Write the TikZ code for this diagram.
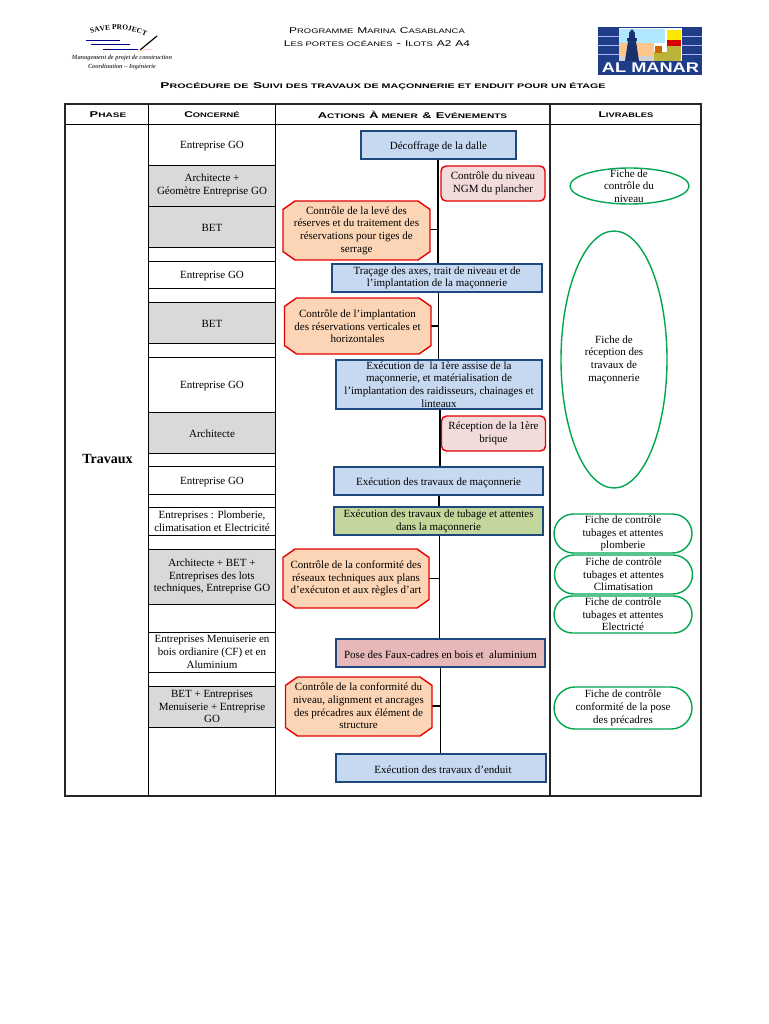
\documentclass[tikz,border=0pt]{standalone}
\usepackage{fontspec}
\usetikzlibrary{shapes.misc,shapes.geometric,decorations.text}
\setmainfont{Liberation Serif}
\newfontfamily\cgfont[FakeStretch=1.42]{Liberation Sans}
\newfontfamily\cgtitle[FakeStretch=1.62]{Liberation Sans}
\newfontfamily\cgacts[FakeStretch=1.53]{Liberation Sans}
\newfontfamily\almfont[FakeStretch=1.3]{Liberation Sans}
\newcommand{\CG}[2]{{\fontsize{8.4}{10}\selectfont #1}{\fontsize{6.6}{10}\selectfont #2}}
\newcommand{\octagon}[5]{%
 \draw[octo] (#1+#5,#3) -- (#2-#5,#3) -- (#2,#3+#5*0.7) -- (#2,#4-#5*0.7) -- (#2-#5,#4) -- (#1+#5,#4) -- (#1,#4-#5*0.7) -- (#1,#3+#5*0.7) -- cycle;}
\definecolor{boxblue}{HTML}{C6D9F1}
\definecolor{boxedge}{HTML}{1F497D}
\definecolor{ctrlpink}{HTML}{F2DCDB}
\definecolor{ctrlorange}{HTML}{FBD5B5}
\definecolor{tubgreen}{HTML}{C3D69B}
\definecolor{posered}{HTML}{E6B9B8}
\definecolor{cellgray}{HTML}{D9D9D9}
\definecolor{delivgreen}{HTML}{00A650}
\definecolor{almblue}{HTML}{1F3C88}
\tikzset{
 x=1pt,y=-1pt,
 txt/.style={font=\fontsize{11}{12.7}\selectfont,align=center,text=black,inner sep=0pt,
   execute at begin node={\rule{0pt}{10.5pt}}},
 actionbox/.style={txt,draw=boxedge,line width=1.3pt,fill=boxblue,minimum width=#1,minimum height=28pt},
 ctrlbox/.style={txt,draw=red!90!black,line width=1.4pt,fill=ctrlpink,rounded corners=5pt,minimum width=104pt,minimum height=35pt},
 octo/.style={draw=red!90!black,line width=1.4pt,fill=ctrlorange},
 flow/.style={draw=black,line width=1.4pt},
 branch/.style={draw=black,line width=1pt},
 cellrule/.style={draw=black,line width=0.9pt},
 delivoval/.style={txt,draw=delivgreen,line width=1.4pt,fill=white,ellipse,inner sep=0pt},
 delivpill/.style={txt,draw=delivgreen,line width=1.4pt,fill=white,rounded rectangle,minimum width=138pt,minimum height=#1},
 head/.style={inner sep=0pt,text=black,font=\cgfont},
}
\begin{document}
\begin{tikzpicture}
\useasboundingbox (0,0) rectangle (768,1024);
\fill[white] (0,0) rectangle (768,1024);

% ---- header text
\node[head] (h1) at (377,31) {\CG{P}{ROGRAMME} \CG{M}{ARINA} \CG{C}{ASABLANCA}};
\node[head] (h2) at (377,44) {\CG{L}{ES PORTES OCÉANES} - \CG{I}{LOTS} \CG{A}{}\CG{2}{} \CG{A}{}\CG{4}{}};
\node[head,font=\cgtitle] (title) at (383,86) {\bfseries\CG{P}{ROCÉDURE DE} \CG{S}{UIVI DES TRAVAUX DE MAÇONNERIE ET ENDUIT POUR UN ÉTAGE}};

% ---- left logo
\path[decorate,decoration={text along path,text align=center,
  text={|\fontsize{7.4}{8}\selectfont\bfseries|SAVE PROJECT}}]
  (85,37) .. controls (102,27) and (130,27) .. (152,39);
\draw[blue!55!black,line width=1pt] (86,41) -- (120,41);
\draw[blue!55!black,line width=1pt] (91,45) -- (130,45);
\draw[blue!55!black,line width=1pt] (103,50) -- (138,50);
\draw[black,line width=1.2pt] (140,50) -- (157,36);
\draw[red!40,line width=0.4pt] (140,50) -- (153,49);
\node[inner sep=0pt,font=\fontsize{6.3}{8.8}\selectfont\itshape\bfseries,text=black!75,align=center] (sub) at (122,62.5)
 {Management de projet de construction\\Coordination -- Ingénierie};

% ---- right logo
\fill[white] (598,27) rectangle (702,75);
\fill[blue!30!cyan!30] (619,29) rectangle (665,43);
\fill[orange!45] (619,43) rectangle (654,56);
\fill[black!18] (619,56) rectangle (654,61);
\fill[yellow!90!orange] (667,30) rectangle (681,40);
\fill[red!85!black] (667,40) rectangle (681,46);
\fill[yellow!70!black] (667,46) rectangle (681,61);
\fill[yellow!70!black] (654,52) rectangle (667,61);
\fill[orange!80!black] (655,46) rectangle (662,53);
\fill[almblue] (598,27) rectangle (619,61);
\fill[almblue] (682,27) rectangle (702,61);
\fill[almblue] (598,61) rectangle (702,75);
\fill[almblue] (598,27) rectangle (702,28.5);
\foreach \yy in {36,45,54}{\draw[white!70!blue,line width=0.4pt] (598,\yy) -- (619,\yy) (682,\yy) -- (702,\yy);}
\fill[almblue!80!black] (625,61) -- (628,41) -- (636,41) -- (639,61) -- cycle;
\fill[almblue!80!black] (627,41) rectangle (637,38);
\fill[almblue!80!black] (629,38) rectangle (635,33);
\fill[almblue!80!black] (632,29) -- (629,33) -- (635,33) -- cycle;
\node[inner sep=0pt,text=white,font=\almfont\bfseries\fontsize{14}{14}\selectfont] (alm) at (650.5,68) {AL MANAR};

% ---- grey cells
\foreach \ya/\yb in {166/206,207/247,303/343,413/453,549/604,686/727}
  {\fill[cellgray] (148,\ya) rectangle (275,\yb);}
% ---- cell rules
\foreach \yy in {165.5,206.5,247,261,288,302,343,357,412,453,466,494,507,535,549,604,632,672,686,727}
  {\draw[cellrule] (148,\yy) -- (275,\yy);}
% ---- table frame
\draw[black!85,line width=1.1pt] (65,104) rectangle (701,796);
\draw[black,line width=0.9pt] (65,124) -- (701,124);
\draw[black,line width=0.9pt] (148,104) -- (148,796);
\draw[black,line width=0.9pt] (275,104) -- (275,796);
\draw[black!85,line width=1.1pt] (550,104) -- (550,796);
% ---- table heads
\node[head,font=\cgacts] (p) at (108,114.5) {\bfseries\CG{P}{HASE}};
\node[head] (c) at (212,114.5) {\bfseries\CG{C}{ONCERNÉ}};
\node[head,font=\cgacts] (a) at (412.5,114.5) {\bfseries\CG{A}{CTIONS} \CG{À}{ MENER} \CG{\&}{} \CG{E}{VÉNEMENTS}};
\node[head] (l) at (626,114.5) {\bfseries\CG{L}{IVRABLES}};
% ---- phase
\node[inner sep=0pt,font=\fontsize{14}{16}\selectfont\bfseries] (phase) at (107.5,459) {Travaux};
% ---- concerned
\node[txt] (c1) at (212,144.5) {Entreprise GO};
\node[txt] (c2) at (212,185.5) {Architecte +\\Géomètre Entreprise GO};
\node[txt] (c3) at (212,226) {BET};
\node[txt] (c4) at (212,274.5) {Entreprise GO};
\node[txt] (c5) at (212,322.5) {BET};
\node[txt] (c6) at (212,384.5) {Entreprise GO};
\node[txt] (c7) at (212,432) {Architecte};
\node[txt] (c8) at (212,480) {Entreprise GO};
\node[txt] (c9) at (212,521) {Entreprises : Plomberie,\\climatisation et Electricité};
\node[txt] (c10) at (212,576.5) {Architecte + BET +\\Entreprises des lots\\techniques, Entreprise GO};
\node[txt] (c11) at (212,652) {Entreprises Menuiserie en\\bois ordianire (CF) et en\\Aluminium};
\node[txt] (c12) at (212,706.5) {BET + Entreprises\\Menuiserie + Entreprise\\GO};

% ---- actions
\node[actionbox=155pt] (a1) at (438.5,145) {Décoffrage de la dalle};
\node[actionbox=210pt] (a2) at (437,278) {Traçage des axes, trait de niveau et de\\l'implantation de la maçonnerie};
\node[actionbox=206pt,minimum height=49pt] (a3) at (439,384.5) {Exécution de\ \ la 1ère assise de la\\maçonnerie, et matérialisation de\\l'implantation des raidisseurs, chainages et\\linteaux};
\node[actionbox=209pt] (a4) at (438.5,481) {Exécution des travaux de maçonnerie};
\node[actionbox=209pt,fill=tubgreen] (a5) at (438.5,521) {Exécution des travaux de tubage et attentes\\dans la maçonnerie};
\node[actionbox=209pt,fill=posered] (a6) at (440.5,653) {Pose des Faux-cadres en bois et\ \ aluminium};
\node[actionbox=210pt] (a7) at (441,768) {\hspace*{4pt}Exécution des travaux d'enduit};

\node[ctrlbox] (k1) at (493,183.5) {Contrôle du niveau\\NGM du plancher};
\node[ctrlbox] (k2) at (493.5,433.5) {Réception de la 1ère\\brique};

% ---- flow connectors
\coordinate (j1) at (438,230);
\coordinate (j2) at (438.5,326);
\coordinate (j3) at (439.5,578);
\coordinate (j4) at (440.5,706);
\draw[flow] (a1.south -| j1) -- (a2.north -| j1);
\draw[flow] (a2.south -| j2) -- (a3.north -| j2);
\draw[flow] (a3.south -| 440,0) -- (a4.north -| 440,0);
\draw[flow] (a4.south -| 439,0) -- (a5.north -| 439,0);
\draw[flow] (a5.south -| j3) -- (a6.north -| j3);
\draw[flow] (a6.south -| j4) -- (a7.north -| j4);

% ---- octagons
\draw[branch] (430,230) -- (j1);
\draw[branch,line width=1.4pt] (431,326) -- (j2);
\draw[branch] (429,578) -- (j3);
\draw[branch,line width=1.4pt] (432,706) -- (j4);
\octagon{283}{430}{201}{260}{12}
\octagon{284.5}{431}{298}{354}{12}
\octagon{283}{429}{549}{608}{12}
\octagon{285.5}{432}{677}{736}{12}
\node[txt] (o1) at (356.5,230.5) {Contrôle de la levé des\\réserves et du traitement des\\réservations pour tiges de\\serrage};
\node[txt] (o2) at (357.5,326.5) {Contrôle de l'implantation\\des réservations verticales et\\horizontales};
\node[txt] (o3) at (356,578.5) {Contrôle de la conformité des\\réseaux techniques aux plans\\d'exécuton et aux règles d'art};
\node[txt] (o4) at (358.5,706) {Contrôle de la conformité du\\niveau, alignment et ancrages\\des précadres aux élément de\\structure};

% ---- deliverables
\node[delivoval,minimum width=119pt,minimum height=36pt] (d1) at (629.5,186) {};
\node[txt] (d1t) at (629,186) {Fiche de\\contrôle du\\niveau};
\node[delivoval,minimum width=106pt,minimum height=257pt] (d2) at (614,359.5) {};
\node[txt] (d2t) at (614,359.5) {Fiche de\\réception des\\travaux de\\maçonnerie};
\node[delivpill=39pt] (d3) at (623,533.5) {Fiche de contrôle\\tubages et attentes\\plomberie};
\node[delivpill=39pt] (d4) at (623.5,574.5) {Fiche de contrôle\\tubages et attentes\\Climatisation};
\node[delivpill=37pt] (d5) at (623,614.5) {Fiche de contrôle\\tubages et attentes\\Electricté};
\node[delivpill=42pt] (d6) at (623,708) {Fiche de contrôle\\conformité de la pose\\des précadres};
\end{tikzpicture}
\end{document}
